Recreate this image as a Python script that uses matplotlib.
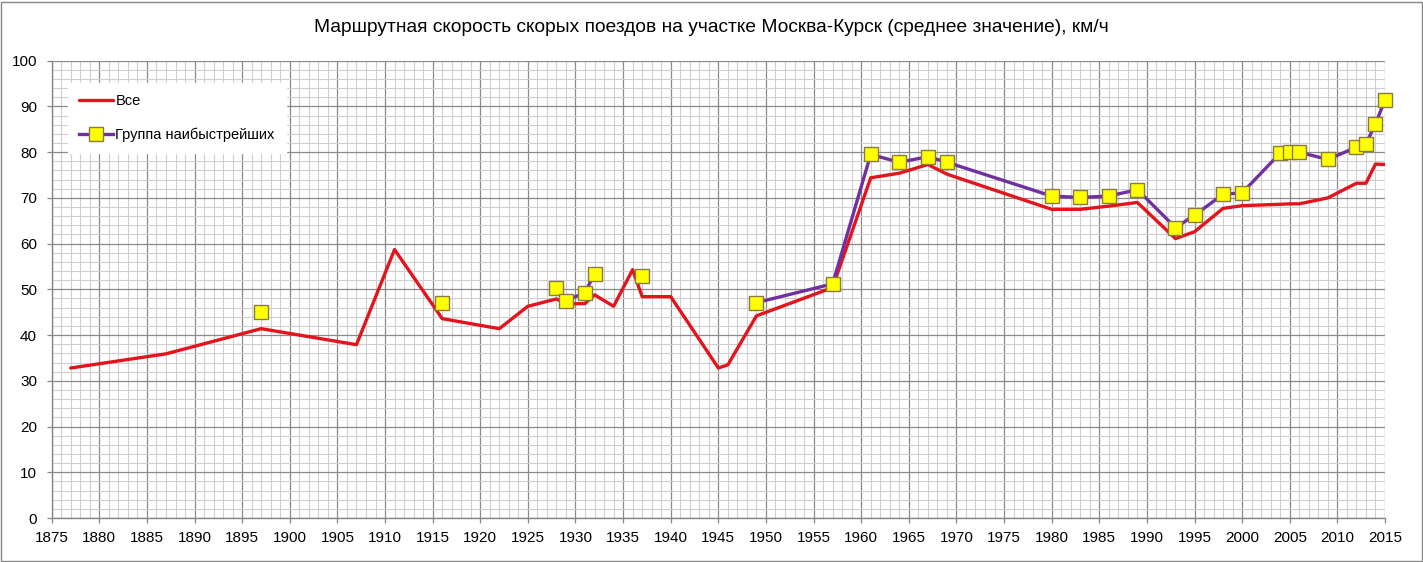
import numpy as np
import matplotlib
matplotlib.use("Agg")
import matplotlib.pyplot as plt
from matplotlib.ticker import MultipleLocator
from matplotlib.patches import Rectangle

plt.rcParams['font.family'] = ['Liberation Sans', 'DejaVu Sans']

title = "Маршрутная скорость скорых поездов на участке Москва-Курск (среднее значение), км/ч"
label_all = "Все"
label_fast = "Группа наибыстрейших"

years = [1877, 1887, 1897, 1907, 1911, 1916, 1922, 1925, 1928, 1929, 1931, 1932,
         1934, 1936, 1937, 1940, 1945, 1946, 1949, 1957, 1961, 1964, 1967, 1969,
         1980, 1983, 1986, 1989, 1993, 1995, 1998, 2000, 2004, 2005, 2006, 2009,
         2012, 2013, 2014, 2015]
speed_all = [32.8, 35.9, 41.4, 37.9, 58.7, 43.6, 41.4, 46.3, 47.9, 46.8, 46.9, 48.8,
             46.3, 54.3, 48.4, 48.4, 32.8, 33.5, 44.2, 50.4, 74.4, 75.4, 77.3, 75.2,
             67.5, 67.5, 68.2, 69.0, 61.1, 62.6, 67.7, 68.3, 68.6, 68.7, 68.7, 70.0,
             73.2, 73.2, 77.4, 77.3]
nan = float('nan')
speed_fast = [nan, nan, 45.1, nan, nan, 47.1, nan, nan, 50.4, 47.5, 49.3, 53.4,
              nan, nan, 53.0, nan, nan, nan, 47.1, 51.2, 79.5, 77.8, 79.0, 77.8,
              70.4, 70.1, 70.4, 71.8, 63.5, 66.2, 70.8, 71.1, 79.8, 80.0, 80.0, 78.4,
              81.1, 81.8, 86.2, 91.4]

W, H = 1423, 562
fig = plt.figure(figsize=(W / 100, H / 100), dpi=100)
ax = fig.add_axes([51.7 / W, 1 - 518 / H, (1385 - 51.7) / W, (518 - 60.7) / H])

ax.set_xlim(1875, 2015)
ax.set_ylim(0, 100)
ax.xaxis.set_major_locator(MultipleLocator(5))
ax.xaxis.set_minor_locator(MultipleLocator(1))
ax.yaxis.set_major_locator(MultipleLocator(10))
ax.yaxis.set_minor_locator(MultipleLocator(2))
ax.grid(which='minor', color='#cfcfcf', linewidth=0.8, zorder=0)
ax.grid(which='major', color='#8a8a8a', linewidth=0.9, zorder=0)
ax.set_axisbelow(True)

ax.plot(years, speed_all, color='#e3141c', linewidth=2.4, solid_joinstyle='round',
        solid_capstyle='round', label=label_all, zorder=3)
ax.plot(years, speed_fast, color='#7030a0', linewidth=2.4, solid_joinstyle='round',
        marker='s', markersize=9.5, markerfacecolor='#ffff00', markeredgecolor='#8a7a46',
        markeredgewidth=1.0, label=label_fast, zorder=4, clip_on=False)

for s in ['top', 'right']:
    ax.spines[s].set_visible(False)
for s in ['left', 'bottom']:
    ax.spines[s].set_color('#868686')
    ax.spines[s].set_linewidth(1.0)

ax.tick_params(which='major', direction='out', length=3.6, width=0.9, color='#868686',
               labelsize=11, labelcolor='black')
ax.tick_params(axis='x', which='major', pad=5.5)
ax.tick_params(axis='y', which='major', pad=7)
ax.tick_params(which='minor', length=0)

leg = ax.legend(loc='upper left', bbox_to_anchor=(68 / W, 1 - 83 / H),
                bbox_transform=fig.transFigure, frameon=True, fancybox=False,
                fontsize=10.5, handlelength=2.35, handletextpad=0.15,
                labelspacing=1.35, borderpad=0.75, borderaxespad=0)
leg.get_frame().set_facecolor('white')
leg.get_frame().set_edgecolor('white')
leg.get_frame().set_alpha(1)

fig.text(0.5, 1 - 27 / H, title, ha='center', va='center', fontsize=13.8)

fig.patches.append(Rectangle((1.5 / W, 1.5 / H), (W - 3) / W, (H - 3) / H,
                             transform=fig.transFigure, fill=False,
                             edgecolor='#868686', linewidth=1.0))

fig.savefig('out.png', dpi=100)
